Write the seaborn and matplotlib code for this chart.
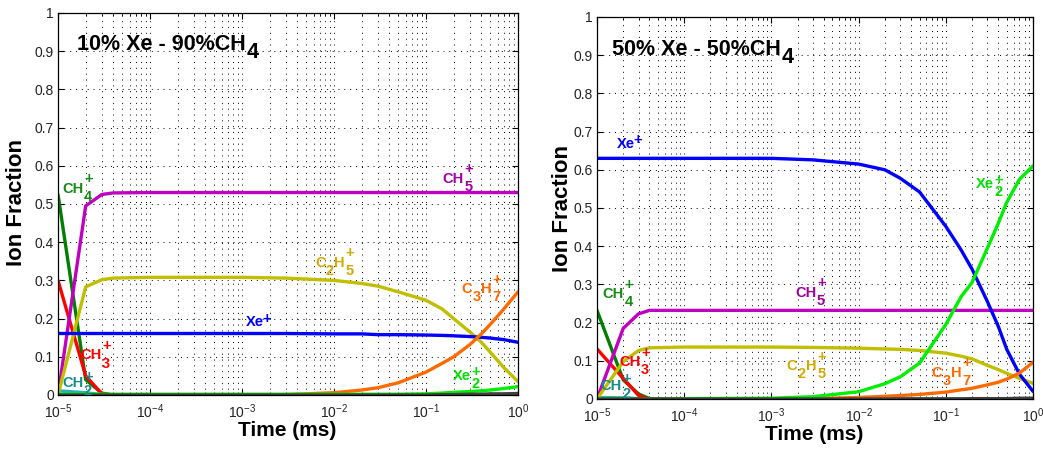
import matplotlib
matplotlib.use("Agg")
import matplotlib.pyplot as plt
import numpy as np
import pandas as pd
import seaborn as sns
from matplotlib.ticker import LogLocator, LogFormatterSciNotation, MultipleLocator, FuncFormatter, NullFormatter

# ---------------------------------------------------------------- data
# sampling times (ms)
time_ms = [1e-5, 2e-5, 3e-5, 4e-5, 1e-4, 1e-3, 3e-3, 1e-2, 2e-2, 3e-2,
           5e-2, 0.1, 0.15, 0.2, 0.3, 0.4, 0.5, 0.7, 1.0]

# 10% Xe - 90% CH4 ion fractions
a_ch4  = [0.525, 0.040, 0.005, 0.000, 0.000, 0.000, 0.000, 0.000, 0.000, 0.000,
          0.000, 0.000, 0.000, 0.000, 0.000, 0.000, 0.000, 0.000, 0.000]
a_ch3  = [0.300, 0.050, 0.003, 0.000, 0.000, 0.000, 0.000, 0.000, 0.000, 0.000,
          0.000, 0.000, 0.000, 0.000, 0.000, 0.000, 0.000, 0.000, 0.000]
a_ch2  = [0.011, 0.006, 0.001, 0.000, 0.000, 0.000, 0.000, 0.000, 0.000, 0.000,
          0.000, 0.000, 0.000, 0.000, 0.000, 0.000, 0.000, 0.000, 0.000]
a_ch5  = [0.000, 0.495, 0.525, 0.529, 0.530, 0.530, 0.530, 0.530, 0.530, 0.530,
          0.530, 0.530, 0.530, 0.530, 0.530, 0.530, 0.530, 0.530, 0.530]
a_c2h5 = [0.000, 0.283, 0.302, 0.306, 0.308, 0.308, 0.306, 0.300, 0.292, 0.285,
          0.270, 0.248, 0.225, 0.200, 0.165, 0.138, 0.112, 0.072, 0.035]
a_xe   = [0.161, 0.161, 0.161, 0.161, 0.161, 0.161, 0.161, 0.160, 0.160, 0.158,
          0.158, 0.157, 0.156, 0.155, 0.153, 0.151, 0.149, 0.145, 0.138]
a_c3h7 = [0.000, 0.000, 0.000, 0.000, 0.000, 0.000, 0.001, 0.006, 0.013, 0.019,
          0.032, 0.060, 0.083, 0.100, 0.132, 0.160, 0.185, 0.225, 0.270]
a_xe2  = [0.002, 0.002, 0.002, 0.002, 0.002, 0.002, 0.002, 0.002, 0.002, 0.002,
          0.002, 0.003, 0.005, 0.007, 0.009, 0.011, 0.013, 0.017, 0.022]
a_oth  = [0.000, 0.000, 0.000, 0.000, 0.000, 0.000, 0.000, 0.000, 0.000, 0.000,
          0.000, 0.000, 0.001, 0.001, 0.002, 0.002, 0.003, 0.003, 0.004]

# 50% Xe - 50% CH4 ion fractions
b_ch4  = [0.232, 0.050, 0.013, 0.001, 0.000, 0.000, 0.000, 0.000, 0.000, 0.000,
          0.000, 0.000, 0.000, 0.000, 0.000, 0.000, 0.000, 0.000, 0.000]
b_ch3  = [0.131, 0.054, 0.009, 0.000, 0.000, 0.000, 0.000, 0.000, 0.000, 0.000,
          0.000, 0.000, 0.000, 0.000, 0.000, 0.000, 0.000, 0.000, 0.000]
b_ch2  = [0.004, 0.003, 0.001, 0.000, 0.000, 0.000, 0.000, 0.000, 0.000, 0.000,
          0.000, 0.000, 0.000, 0.000, 0.000, 0.000, 0.000, 0.000, 0.000]
b_ch5  = [0.000, 0.185, 0.223, 0.232, 0.232, 0.232, 0.232, 0.232, 0.232, 0.232,
          0.232, 0.232, 0.232, 0.232, 0.232, 0.232, 0.232, 0.232, 0.232]
b_c2h5 = [0.000, 0.098, 0.127, 0.134, 0.136, 0.136, 0.135, 0.133, 0.131, 0.130,
          0.127, 0.120, 0.112, 0.105, 0.088, 0.077, 0.067, 0.054, 0.041]
b_xe   = [0.630, 0.630, 0.630, 0.630, 0.630, 0.630, 0.626, 0.615, 0.600, 0.578,
          0.542, 0.452, 0.390, 0.340, 0.255, 0.190, 0.130, 0.065, 0.020]
b_c3h7 = [0.000, 0.000, 0.000, 0.000, 0.000, 0.000, 0.001, 0.004, 0.007, 0.009,
          0.012, 0.018, 0.024, 0.028, 0.037, 0.044, 0.052, 0.068, 0.096]
b_xe2  = [0.000, 0.000, 0.000, 0.000, 0.001, 0.002, 0.006, 0.019, 0.040, 0.058,
          0.094, 0.195, 0.268, 0.305, 0.395, 0.460, 0.515, 0.575, 0.610]
b_oth  = [0.000, 0.000, 0.000, 0.000, 0.000, 0.000, 0.000, 0.000, 0.000, 0.000,
          0.000, 0.000, 0.000, 0.001, 0.001, 0.001, 0.001, 0.002, 0.002]

ions = ["CH4+", "CH3+", "CH2+", "CH5+", "C2H5+", "Xe+", "C3H7+", "Xe2+", "other"]
panel_a = [a_ch4, a_ch3, a_ch2, a_ch5, a_c2h5, a_xe, a_c3h7, a_xe2, a_oth]
panel_b = [b_ch4, b_ch3, b_ch2, b_ch5, b_c2h5, b_xe, b_c3h7, b_xe2, b_oth]

# chemical formulae split into (text, role): n = normal, s = subscript, p = superscript
formula = {
    "CH4+": [("CH", "n"), ("4", "s"), ("+", "p")],
    "CH3+": [("CH", "n"), ("3", "s"), ("+", "p")],
    "CH2+": [("CH", "n"), ("2", "s"), ("+", "p")],
    "CH5+": [("CH", "n"), ("5", "s"), ("+", "p")],
    "C2H5+": [("C", "n"), ("2", "s"), ("H", "n"), ("5", "s"), ("+", "p")],
    "Xe+": [("Xe", "n"), ("+", "p")],
    "C3H7+": [("C", "n"), ("3", "s"), ("H", "n"), ("7", "s"), ("+", "p")],
    "Xe2+": [("Xe", "n"), ("2", "s"), ("+", "p")],
}
titles = [
    [("10% Xe - 90%CH", "n"), ("4", "s")],
    [("50% Xe - 50%CH", "n"), ("4", "s")],
]

# ---------------------------------------------------------------- style
line_colors = {"CH4+": "#008000", "CH3+": "#ff0000", "CH2+": "#1fb5b5",
               "CH5+": "#c000c0", "C2H5+": "#bfbf00", "Xe+": "#0000ff",
               "C3H7+": "#ff6a00", "Xe2+": "#00ee00", "other": "#404040"}
text_colors = {"CH4+": "#158a15", "CH3+": "#ff0000", "CH2+": "#178a8a",
               "CH5+": "#a000a0", "C2H5+": "#d2aa00", "Xe+": "#0000ff",
               "C3H7+": "#ff6a00", "Xe2+": "#00e000"}
sup_raise = {"Xe+": -7.5, "Xe2+": -7.0, "CH2+": -5.5}

# baseline anchors (time, fraction) of each annotation, per panel
label_pos = [
    {"CH4+": (1.12e-5, 0.530), "CH5+": (0.152, 0.556), "C2H5+": (6.2e-3, 0.336),
     "Xe+": (1.1e-3, 0.180), "C3H7+": (0.244, 0.266), "Xe2+": (0.195, 0.039),
     "CH3+": (1.74e-5, 0.093), "CH2+": (1.11e-5, 0.020)},
    {"CH4+": (1.16e-5, 0.264), "CH5+": (1.87e-3, 0.268), "C2H5+": (1.5e-3, 0.076),
     "Xe+": (1.68e-5, 0.657), "C3H7+": (6.9e-2, 0.058), "Xe2+": (0.222, 0.552),
     "CH3+": (1.8e-5, 0.086), "CH2+": (1.10e-5, 0.024)},
]
title_pos = [(1.62e-5, 0.903), (1.48e-5, 0.900)]

LABEL_SIZE = 10.5


def draw_formula(ax, x, y, pieces, color, size, sub_drop, raise_pt=-3.3):
    """Write a formula with full-size, stacked sub/superscripts."""
    main = last = None
    kw = dict(color=color, fontsize=size, fontweight="bold", ha="left",
              va="bottom", textcoords="offset points", annotation_clip=False)
    for txt, role in pieces:
        if main is None:
            art = ax.text(x, y, txt, color=color, fontsize=size,
                          fontweight="bold", ha="left", va="baseline")
            main = art
        elif role == "n":
            art = ax.annotate(txt, xy=(1, 0), xycoords=(last, main),
                              xytext=(0.2, 0), **kw)
            main = art
        elif role == "s":
            art = ax.annotate(txt, xy=(1, 0), xycoords=(last, main),
                              xytext=(0.3, -sub_drop), **kw)
        else:
            if last is not main:      # stacked above the subscript
                art = ax.annotate(txt, xy=(0, 1), xycoords=(last, main),
                                  xytext=(0.3, raise_pt), **kw)
            else:
                art = ax.annotate(txt, xy=(1, 1), xycoords=(last, main),
                                  xytext=(-0.8, raise_pt), **kw)
        last = art


sns.set_theme(style="ticks")
plt.rcParams.update({
    "font.family": ["Liberation Sans", "DejaVu Sans"],
    "axes.edgecolor": "black",
    "axes.linewidth": 0.9,
})

fig = plt.figure(figsize=(10.43, 4.55), dpi=100)
axes_rects = [[58 / 1043, 60 / 455, 460 / 1043, 382 / 455],
              [597 / 1043, 56 / 455, 436 / 1043, 382 / 455]]
ylabel_xy = [(17, 202), (563, 209)]
xlabel_xy = [(287, 431), (814, 435)]

for k, (rect, series) in enumerate(zip(axes_rects, [panel_a, panel_b])):
    ax = fig.add_axes(rect)
    frames = [pd.DataFrame({"time": time_ms, "fraction": vals, "ion": name})
              for name, vals in zip(ions, series)]
    df = pd.concat(frames, ignore_index=True)
    sns.lineplot(data=df, x="time", y="fraction", hue="ion", hue_order=ions,
                 palette=line_colors, estimator=None, sort=False, lw=2.4,
                 legend=False, ax=ax)
    ax.set_xscale("log")
    ax.set_xlim(1e-5, 1.0)
    ax.set_ylim(0, 1)
    ax.set_xlabel("")
    ax.set_ylabel("")

    ax.xaxis.set_major_locator(LogLocator(base=10, numticks=10))
    ax.xaxis.set_minor_locator(LogLocator(base=10, subs=np.arange(2, 10), numticks=20))
    ax.xaxis.set_major_formatter(LogFormatterSciNotation())
    ax.xaxis.set_minor_formatter(NullFormatter())
    ax.yaxis.set_major_locator(MultipleLocator(0.1))
    ax.yaxis.set_major_formatter(FuncFormatter(
        lambda v, p: f"{v:.1f}".rstrip("0").rstrip(".") if v else "0"))

    dots = (0, (1.0, 5.0))
    ax.grid(True, which="major", axis="both", color="black", lw=0.7, linestyle=dots)
    ax.grid(True, which="minor", axis="x", color="black", lw=0.7, linestyle=dots)
    ax.set_axisbelow(True)
    ax.tick_params(which="both", direction="in", top=True, right=True,
                   colors="black", labelcolor="#222222")
    ax.tick_params(which="major", length=4.5, width=0.8, labelsize=10)
    ax.tick_params(which="minor", length=2.5, width=0.6)
    ax.tick_params(axis="x", which="major", pad=5)
    ax.tick_params(axis="y", which="major", pad=3)
    for s in ax.spines.values():
        s.set_color("black")

    for ion, (tx, fy) in label_pos[k].items():
        draw_formula(ax, tx, fy, formula[ion], text_colors[ion], LABEL_SIZE,
                     sub_drop=5.8, raise_pt=sup_raise.get(ion, -3.3))
    draw_formula(ax, title_pos[k][0], title_pos[k][1], titles[k], "black",
                 15.5, sub_drop=5.8)

    fig.text(ylabel_xy[k][0] / 1043, 1 - ylabel_xy[k][1] / 455, "Ion Fraction",
             rotation=90, ha="center", va="center", fontsize=16,
             fontweight="bold", color="black")
    fig.text(xlabel_xy[k][0] / 1043, 1 - xlabel_xy[k][1] / 455, "Time (ms)",
             ha="center", va="center", fontsize=15, fontweight="bold",
             color="black")

fig.savefig("out.png", dpi=100, facecolor="white")
